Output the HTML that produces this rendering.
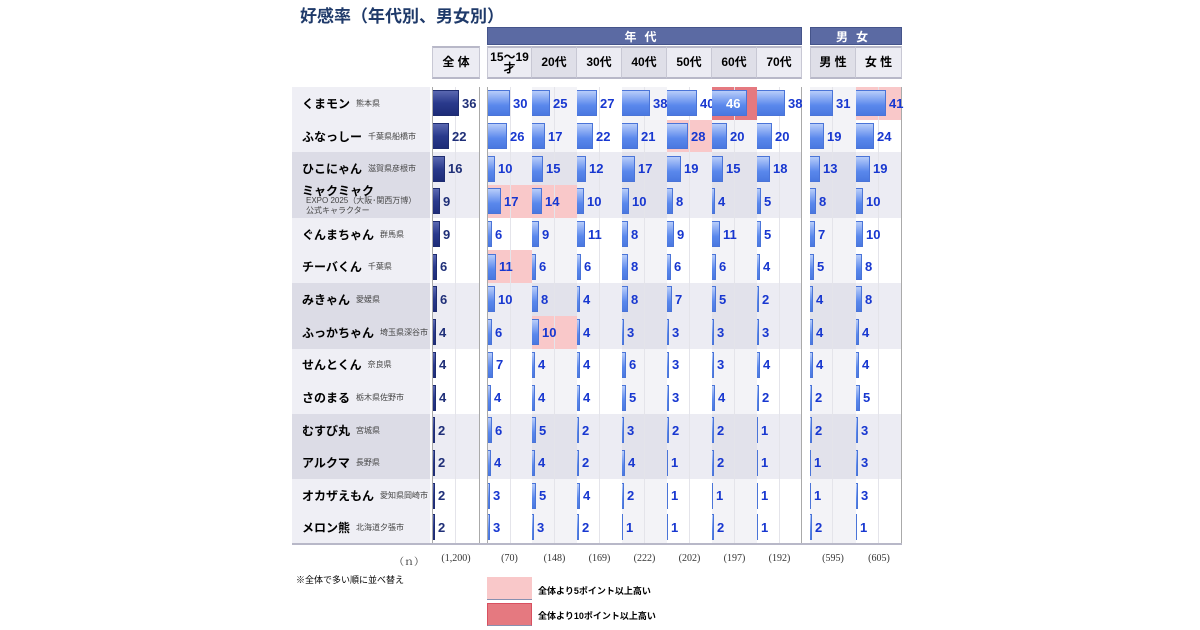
<!DOCTYPE html>
<html><head><meta charset="utf-8"><style>
*{margin:0;padding:0;box-sizing:border-box}
body{width:1200px;height:630px;background:#fff;position:relative;font-family:"Liberation Sans","Noto Sans CJK JP",sans-serif;overflow:hidden}
.t{position:absolute;left:300px;top:2px;font-size:17px;font-weight:bold;color:#1f3a6a}
.band{position:absolute;top:27px;height:18px;background:#5b6aa3;color:#fff;font-weight:bold;font-size:12px;text-align:center;line-height:18px;letter-spacing:8px;border:1px solid #45548a}
.hd{position:absolute;top:46px;height:33px;display:flex}
.hd div{background:#ececf3;border-right:1px solid #c8c8d4;font-size:12px;font-weight:bold;display:flex;align-items:center;justify-content:center;text-align:center;line-height:11px;border-top:2px solid #b8b8c8;border-bottom:2px solid #b8b8c8}
.hd div.d{background:#dfdfe8}
#rows{position:absolute;left:292px;top:87px}
.r{display:flex;height:32.7px}
.nm{width:138px;background:#efeff5;font-size:12px;font-weight:bold;display:flex;align-items:center;padding-left:10px;white-space:nowrap;margin-right:2px}
.nm small{font-size:8px;font-weight:normal;color:#444;margin-left:6px}
.r.s .nm{background:#dcdce6}
.c{width:45px;display:flex;align-items:center;position:relative;background:linear-gradient(90deg,transparent 22px,#e4e4ea 22px,#e4e4ea 23px,transparent 23px)}
.c.g{width:46px}
.c.a{width:48px;border-left:1px solid #aaa;border-right:1px solid #aaa;margin-right:7px}
.c.first{border-left:1px solid #aaa}
.c.last{border-right:1px solid #aaa;margin-right:8px}
.c.lastg{border-right:1px solid #aaa}
.r.s .c{background-color:#ececf3}
.c.k{background-color:#f3f3f7}
.r.s .c.k{background-color:#e2e2eb}
.c i{display:inline-block;height:26px;background:linear-gradient(180deg,#b8cdfa,#5a88ec 60%,#4a78e0);border:1px solid #4a74d8;border-left:none;flex:none}
.c.a i{background:linear-gradient(180deg,#5a68b0,#2a3a8c 50%,#1e2c78);border-color:#1e2c70}
.c b{font-size:13px;color:#1737d0;margin-left:3px}
.c.a b{color:#1f2f78}
.c.p{background-color:#f9c8c9!important}
.c.q{background-color:#e57980!important}
.c.q b{color:#fff;margin-left:-21px;position:relative}
.n{position:absolute;top:553px;font-size:10px;color:#333;font-family:"Liberation Serif","Noto Serif CJK SC",serif;width:46px;text-align:center}
.note{position:absolute;left:296px;top:573px;font-size:9px}
.lg{position:absolute;left:487px;width:45px;height:23px}
.lt{position:absolute;left:538px;font-size:9px;font-weight:bold}
</style></head><body>
<div class="t">好感率（年代別、男女別）</div>
<div class="band" style="left:487px;width:315px">年代</div>
<div class="band" style="left:810px;width:92px">男女</div>
<div class="hd" style="left:432px"><div style="width:48px;border-left:1px solid #c8c8d4">全 体</div></div>
<div class="hd" style="left:487px">
<div style="width:45px;border-left:1px solid #c8c8d4">15～19<br>才</div><div class="d" style="width:45px">20代</div><div style="width:45px">30代</div><div class="d" style="width:45px">40代</div><div style="width:45px">50代</div><div class="d" style="width:45px">60代</div><div style="width:45px">70代</div></div>
<div class="hd" style="left:810px"><div class="d" style="width:46px;border-left:1px solid #c8c8d4">男 性</div><div style="width:46px">女 性</div></div>
<div id="rows">
<div class="r"><div class="nm">くまモン<small>熊本県</small></div><div class="c a"><i style="width:26px"></i><b>36</b></div><div class="c first"><i style="width:22px"></i><b>30</b></div><div class="c k"><i style="width:18px"></i><b>25</b></div><div class="c"><i style="width:20px"></i><b>27</b></div><div class="c k"><i style="width:28px"></i><b>38</b></div><div class="c"><i style="width:30px"></i><b>40</b></div><div class="c k q"><i style="width:35px"></i><b>46</b></div><div class="c last"><i style="width:28px"></i><b>38</b></div><div class="c g k"><i style="width:23px"></i><b>31</b></div><div class="c g lastg p"><i style="width:30px"></i><b>41</b></div></div>
<div class="r"><div class="nm">ふなっしー<small>千葉県船橋市</small></div><div class="c a"><i style="width:16px"></i><b>22</b></div><div class="c first"><i style="width:19px"></i><b>26</b></div><div class="c k"><i style="width:13px"></i><b>17</b></div><div class="c"><i style="width:16px"></i><b>22</b></div><div class="c k"><i style="width:16px"></i><b>21</b></div><div class="c p"><i style="width:21px"></i><b>28</b></div><div class="c k"><i style="width:15px"></i><b>20</b></div><div class="c last"><i style="width:15px"></i><b>20</b></div><div class="c g k"><i style="width:14px"></i><b>19</b></div><div class="c g lastg"><i style="width:18px"></i><b>24</b></div></div>
<div class="r s"><div class="nm">ひこにゃん<small>滋賀県彦根市</small></div><div class="c a"><i style="width:12px"></i><b>16</b></div><div class="c first"><i style="width:7px"></i><b>10</b></div><div class="c k"><i style="width:11px"></i><b>15</b></div><div class="c"><i style="width:9px"></i><b>12</b></div><div class="c k"><i style="width:13px"></i><b>17</b></div><div class="c"><i style="width:14px"></i><b>19</b></div><div class="c k"><i style="width:11px"></i><b>15</b></div><div class="c last"><i style="width:13px"></i><b>18</b></div><div class="c g k"><i style="width:10px"></i><b>13</b></div><div class="c g lastg"><i style="width:14px"></i><b>19</b></div></div>
<div class="r s"><div class="nm" style="flex-direction:column;align-items:flex-start;justify-content:center;line-height:10px">ミャクミャク<small style="margin-left:4px;font-size:8px">EXPO 2025（大阪･関西万博）<br>公式キャラクター</small></div><div class="c a"><i style="width:7px"></i><b>9</b></div><div class="c first p"><i style="width:13px"></i><b>17</b></div><div class="c k p"><i style="width:10px"></i><b>14</b></div><div class="c"><i style="width:7px"></i><b>10</b></div><div class="c k"><i style="width:7px"></i><b>10</b></div><div class="c"><i style="width:6px"></i><b>8</b></div><div class="c k"><i style="width:3px"></i><b>4</b></div><div class="c last"><i style="width:4px"></i><b>5</b></div><div class="c g k"><i style="width:6px"></i><b>8</b></div><div class="c g lastg"><i style="width:7px"></i><b>10</b></div></div>
<div class="r"><div class="nm">ぐんまちゃん<small>群馬県</small></div><div class="c a"><i style="width:7px"></i><b>9</b></div><div class="c first"><i style="width:4px"></i><b>6</b></div><div class="c k"><i style="width:7px"></i><b>9</b></div><div class="c"><i style="width:8px"></i><b>11</b></div><div class="c k"><i style="width:6px"></i><b>8</b></div><div class="c"><i style="width:7px"></i><b>9</b></div><div class="c k"><i style="width:8px"></i><b>11</b></div><div class="c last"><i style="width:4px"></i><b>5</b></div><div class="c g k"><i style="width:5px"></i><b>7</b></div><div class="c g lastg"><i style="width:7px"></i><b>10</b></div></div>
<div class="r"><div class="nm">チーバくん<small>千葉県</small></div><div class="c a"><i style="width:4px"></i><b>6</b></div><div class="c first p"><i style="width:8px"></i><b>11</b></div><div class="c k"><i style="width:4px"></i><b>6</b></div><div class="c"><i style="width:4px"></i><b>6</b></div><div class="c k"><i style="width:6px"></i><b>8</b></div><div class="c"><i style="width:4px"></i><b>6</b></div><div class="c k"><i style="width:4px"></i><b>6</b></div><div class="c last"><i style="width:3px"></i><b>4</b></div><div class="c g k"><i style="width:4px"></i><b>5</b></div><div class="c g lastg"><i style="width:6px"></i><b>8</b></div></div>
<div class="r s"><div class="nm">みきゃん<small>愛媛県</small></div><div class="c a"><i style="width:4px"></i><b>6</b></div><div class="c first"><i style="width:7px"></i><b>10</b></div><div class="c k"><i style="width:6px"></i><b>8</b></div><div class="c"><i style="width:3px"></i><b>4</b></div><div class="c k"><i style="width:6px"></i><b>8</b></div><div class="c"><i style="width:5px"></i><b>7</b></div><div class="c k"><i style="width:4px"></i><b>5</b></div><div class="c last"><i style="width:2px"></i><b>2</b></div><div class="c g k"><i style="width:3px"></i><b>4</b></div><div class="c g lastg"><i style="width:6px"></i><b>8</b></div></div>
<div class="r s"><div class="nm">ふっかちゃん<small>埼玉県深谷市</small></div><div class="c a"><i style="width:3px"></i><b>4</b></div><div class="c first"><i style="width:4px"></i><b>6</b></div><div class="c k p"><i style="width:7px"></i><b>10</b></div><div class="c"><i style="width:3px"></i><b>4</b></div><div class="c k"><i style="width:2px"></i><b>3</b></div><div class="c"><i style="width:2px"></i><b>3</b></div><div class="c k"><i style="width:2px"></i><b>3</b></div><div class="c last"><i style="width:2px"></i><b>3</b></div><div class="c g k"><i style="width:3px"></i><b>4</b></div><div class="c g lastg"><i style="width:3px"></i><b>4</b></div></div>
<div class="r"><div class="nm">せんとくん<small>奈良県</small></div><div class="c a"><i style="width:3px"></i><b>4</b></div><div class="c first"><i style="width:5px"></i><b>7</b></div><div class="c k"><i style="width:3px"></i><b>4</b></div><div class="c"><i style="width:3px"></i><b>4</b></div><div class="c k"><i style="width:4px"></i><b>6</b></div><div class="c"><i style="width:2px"></i><b>3</b></div><div class="c k"><i style="width:2px"></i><b>3</b></div><div class="c last"><i style="width:3px"></i><b>4</b></div><div class="c g k"><i style="width:3px"></i><b>4</b></div><div class="c g lastg"><i style="width:3px"></i><b>4</b></div></div>
<div class="r"><div class="nm">さのまる<small>栃木県佐野市</small></div><div class="c a"><i style="width:3px"></i><b>4</b></div><div class="c first"><i style="width:3px"></i><b>4</b></div><div class="c k"><i style="width:3px"></i><b>4</b></div><div class="c"><i style="width:3px"></i><b>4</b></div><div class="c k"><i style="width:4px"></i><b>5</b></div><div class="c"><i style="width:2px"></i><b>3</b></div><div class="c k"><i style="width:3px"></i><b>4</b></div><div class="c last"><i style="width:2px"></i><b>2</b></div><div class="c g k"><i style="width:2px"></i><b>2</b></div><div class="c g lastg"><i style="width:4px"></i><b>5</b></div></div>
<div class="r s"><div class="nm">むすび丸<small>宮城県</small></div><div class="c a"><i style="width:2px"></i><b>2</b></div><div class="c first"><i style="width:4px"></i><b>6</b></div><div class="c k"><i style="width:4px"></i><b>5</b></div><div class="c"><i style="width:2px"></i><b>2</b></div><div class="c k"><i style="width:2px"></i><b>3</b></div><div class="c"><i style="width:2px"></i><b>2</b></div><div class="c k"><i style="width:2px"></i><b>2</b></div><div class="c last"><i style="width:1px"></i><b>1</b></div><div class="c g k"><i style="width:2px"></i><b>2</b></div><div class="c g lastg"><i style="width:2px"></i><b>3</b></div></div>
<div class="r s"><div class="nm">アルクマ<small>長野県</small></div><div class="c a"><i style="width:2px"></i><b>2</b></div><div class="c first"><i style="width:3px"></i><b>4</b></div><div class="c k"><i style="width:3px"></i><b>4</b></div><div class="c"><i style="width:2px"></i><b>2</b></div><div class="c k"><i style="width:3px"></i><b>4</b></div><div class="c"><i style="width:1px"></i><b>1</b></div><div class="c k"><i style="width:2px"></i><b>2</b></div><div class="c last"><i style="width:1px"></i><b>1</b></div><div class="c g k"><i style="width:1px"></i><b>1</b></div><div class="c g lastg"><i style="width:2px"></i><b>3</b></div></div>
<div class="r"><div class="nm">オカザえもん<small>愛知県岡崎市</small></div><div class="c a"><i style="width:2px"></i><b>2</b></div><div class="c first"><i style="width:2px"></i><b>3</b></div><div class="c k"><i style="width:4px"></i><b>5</b></div><div class="c"><i style="width:3px"></i><b>4</b></div><div class="c k"><i style="width:2px"></i><b>2</b></div><div class="c"><i style="width:1px"></i><b>1</b></div><div class="c k"><i style="width:1px"></i><b>1</b></div><div class="c last"><i style="width:1px"></i><b>1</b></div><div class="c g k"><i style="width:1px"></i><b>1</b></div><div class="c g lastg"><i style="width:2px"></i><b>3</b></div></div>
<div class="r" style="border-bottom:2px solid #b8b8c8"><div class="nm">メロン熊<small>北海道夕張市</small></div><div class="c a"><i style="width:2px"></i><b>2</b></div><div class="c first"><i style="width:2px"></i><b>3</b></div><div class="c k"><i style="width:2px"></i><b>3</b></div><div class="c"><i style="width:2px"></i><b>2</b></div><div class="c k"><i style="width:1px"></i><b>1</b></div><div class="c"><i style="width:1px"></i><b>1</b></div><div class="c k"><i style="width:2px"></i><b>2</b></div><div class="c last"><i style="width:1px"></i><b>1</b></div><div class="c g k"><i style="width:2px"></i><b>2</b></div><div class="c g lastg"><i style="width:1px"></i><b>1</b></div></div>
</div>
<div class="n" style="left:386px">（ｎ）</div>
<div class="n" style="left:432px;width:48px">(1,200)</div>
<div class="n" style="left:487px;width:45px">(70)</div>
<div class="n" style="left:532px;width:45px">(148)</div>
<div class="n" style="left:577px;width:45px">(169)</div>
<div class="n" style="left:622px;width:45px">(222)</div>
<div class="n" style="left:667px;width:45px">(202)</div>
<div class="n" style="left:712px;width:45px">(197)</div>
<div class="n" style="left:757px;width:45px">(192)</div>
<div class="n" style="left:810px">(595)</div>
<div class="n" style="left:856px">(605)</div>
<div class="note">※全体で多い順に並べ替え</div>
<div class="lg" style="top:577px;background:#f9c8c9;border-bottom:1px solid #8890b0"></div>
<div class="lt" style="top:584px">全体より5ポイント以上高い</div>
<div class="lg" style="top:603px;background:#e57980;border:1px solid #d85060;border-bottom:1px solid #8890b0"></div>
<div class="lt" style="top:609px">全体より10ポイント以上高い</div>
</body></html>
